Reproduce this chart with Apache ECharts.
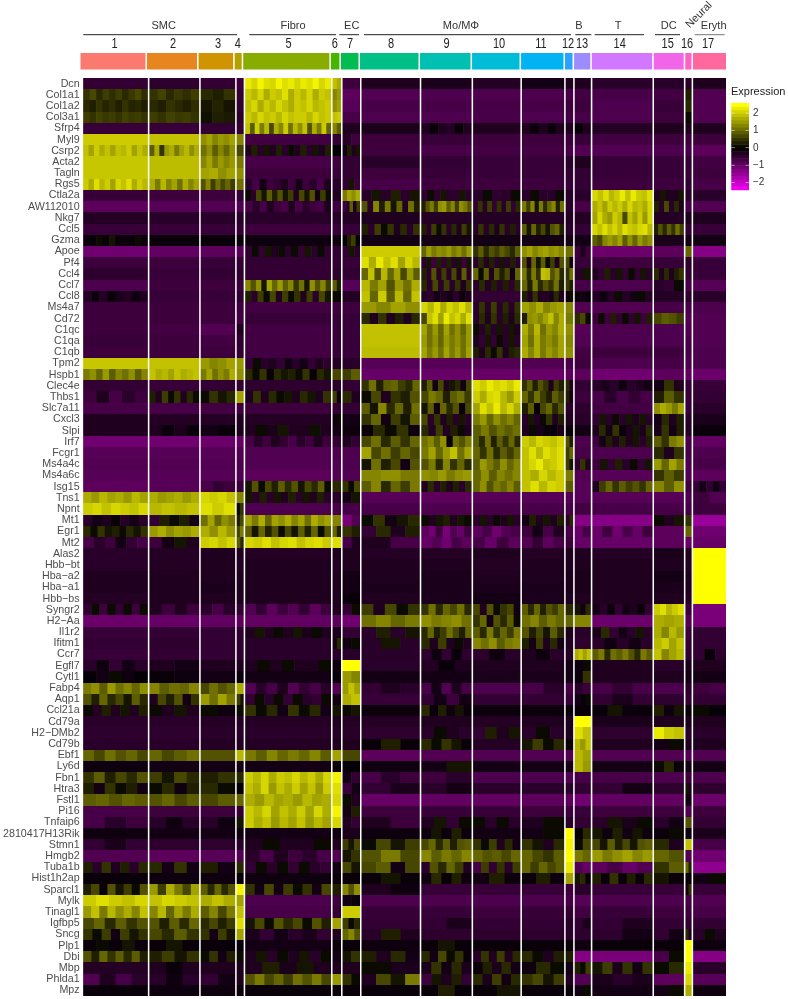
<!DOCTYPE html>
<html><head><meta charset="utf-8">
<script src="https://cdn.jsdelivr.net/npm/echarts@6/dist/echarts.min.js"></script>
<style>html,body{margin:0;padding:0;background:#fff}#c{width:788px;height:999px}</style>
</head><body><div id="c"></div>
<script>
// categories
const clusterLabels=['1','2','3','4','5','6','7','8','9','10','11','12','13','14','15','16','17'];
const clusterCells=[650,500,346,70,862,85,175,585,505,475,424,75,162,604,300,62,330];
const clusterColors=['#FB7A70','#E7851E','#D09400','#B2A100','#89AC00','#45B500','#00BC51','#00C087','#00C0B2','#00BCD6','#00B3F2','#29A3FF','#9C8DFF','#D277FF','#F166E8','#FF61C7','#FF689E'];
const groupLabels=['SMC','Fibro','EC','Mo/MΦ','B','T','DC','Eryth'];
const geneNames=['Dcn','Col1a1','Col1a2','Col3a1','Sfrp4','Myl9','Csrp2','Acta2','Tagln','Rgs5','Ctla2a','AW112010','Nkg7','Ccl5','Gzma','Apoe','Pf4','Ccl4','Ccl7','Ccl8','Ms4a7','Cd72','C1qc','C1qa','C1qb','Tpm2','Hspb1','Clec4e','Thbs1','Slc7a11','Cxcl3','Slpi','Irf7','Fcgr1','Ms4a4c','Ms4a6c','Isg15','Tns1','Npnt','Mt1','Egr1','Mt2','Alas2','Hbb−bt','Hba−a2','Hba−a1','Hbb−bs','Syngr2','H2−Aa','Il1r2','Ifitm1','Ccr7','Egfl7','Cytl1','Fabp4','Aqp1','Ccl21a','Cd79a','H2−DMb2','Cd79b','Ebf1','Ly6d','Fbn1','Htra3','Fstl1','Pi16','Tnfaip6','2810417H13Rik','Stmn1','Hmgb2','Tuba1b','Hist1h2ap','Sparcl1','Mylk','Tinagl1','Igfbp5','Sncg','Plp1','Dbi','Mbp','Phlda1','Mpz'];
const legendLevels=[-2.5,-2.3,-2.1,-1.9,-1.7,-1.5,-1.3,-1.1,-.9,-.7,-.5,-.3,-.1,.1,.3,.5,.7,.9,1.1,1.3,1.5,1.7,1.9,2.1,2.3,2.5];
const legendTicks=[-2,-1,0,1,2];

// expression read per cluster; a nested list is a run of stripes across that cluster
const Dcn=[-.5,-.45,-.5,-.6,[2.3,2.1,2.4,2.2,2.1,2.4,2.2,2.3,2.1,2.3,2.2,2.4,2.1,2.3],[1.9,1.7],-.6,-.3,-.25,-.35,-.2,-.3,-.3,-.4,-.4,-.4,-.3];
const Col1a1=[[.5,.7,.4,.6,.45,.6,.4,.55,.7,.45],[.5,.65,.4,.55,.45,.6],[.4,.3,.5],-.5,[2,1.8,2.1,1.7,2,1.9,2.2,1.7,2,1.8,2.1,1.7,2,1.9],[1.3,1.5],-.9,-.8,-.75,-.75,-.75,-.7,-.65,-.7,-.65,.3,-.8];
const Col1a2=[[.4,.3,.5,.35,.45,.3,.5,.35,.4,.3],[.4,.3,.5,.4,.3,.45],[.2,.35,.2],-.5,[1.9,2.1,1.7,2,1.8,2.1,1.9,1.7,2,1.9,2.1,1.8,1.9,2],[1.4,1.6],-.85,-.7,-.7,-.7,-.7,-.6,-.6,-.75,-.55,.4,-.8];
const Col3a1=[[.6,.5,.65,.55,.6,.5,.65,.55,.6,.5],[.6,.5,.65,.55,.6,.5],[.15,.3,.25],-.4,[2,1.8,2.1,1.9,2,1.8,2.1,1.9,2,2,1.8,2.1,1.9,2],[1.9,2],-.7,-.75,-.75,-.7,-.75,-.65,-.7,-.75,-.6,.1,-.8];
const Sfrp4=[-.55,-.55,-.5,-.5,[1.9,.9,2,1.2,1.8,.7,1.7,1.3,2,1.1,1.8,1.4,1.9,.8,1.7,1.2,2,1],[1.3,.9],-.3,-.25,[-.3,-.1,-.3,-.35,-.1,-.3],-.3,[-.3,-.1,-.3,-.1,-.3],-.3,[-.1,-.3],-.35,-.3,-.3,-.3];
const Myl9=[2,1.9,[1.4,1.6,1.3,1.5,1.4,1.6],1.3,-.65,-.5,[-.4,-.6],-.6,-.55,-.6,-.6,-.6,-.55,-.65,-.6,-.6,-.6];
const Csrp2=[[1.9,1.6,2,1.7,1.9,1.6,1.9,1.8,2,1.6,1.9,1.7],[.9,1.7,.5,1.5,1.7,1.2,1.6,1.8,1.4,1.7],[1.1,1.4,.9,1.3,1,1.4],.7,[-.3,.3,-.4,.2,-.3,.3,-.4,.1,-.3,.3,-.4,.2,-.3,.3],.0,[-.2,.3,-.3,.2],-.6,-.7,-.65,-.65,-.7,-.8,-.8,-.75,-.7,-.9];
const Acta2=[1.95,1.85,[1.3,1.6,1.2,1.5,1.3,1.5],1.2,-.7,-.6,-.5,-.4,-.5,-.55,-.55,-.4,-.3,-.55,-.55,-.5,-.65];
const Tagln=[1.95,1.85,[1.6,1.7,1.4,1.6],1.4,-.6,-.55,-.5,-.6,-.55,-.55,-.55,-.5,-.5,-.55,-.55,-.55,-.6];
const Rgs5=[[2,1.7,2.2,1.8,2,1.6,2.1,1.9,2.2,1.7,2,1.8],[1.7,1.2,1.8,1.3,1.6,1.1,1.7,1.3,1.6],[.8,1.3,.6,1.1,.7,1,.6],1.1,[-.4,-.7,-.2,-.6,-.5,-.3,-.6,-.2,-.6,-.4,-.7,-.3],-.4,[-.5,.2,-.6],-.7,-.6,-.6,-.6,-.55,-.5,-.6,-.6,-.5,-.7];
const Ctla2a=[-.55,-.6,-.6,-.5,[.1,-.4,.7,.2,.9,.3,.8,.2,.6,-.3,.7,.2,.8,-.2,.6,.1],-.3,[1.2,1.6,1.4,1.7],[-.4,.2,-.4,.3,-.4,.2],[-.45,.1,-.45,.2,-.4,-.45,.2,-.4],[-.4,.1,-.45,-.4,.1],[-.4,.1,-.4,-.4,.1],-.4,-.4,[2.1,1.9,2.2,1.8,2,2.3,1.9,2.3,2,1.9,2.2],[-.3,.2,-.3,-.3,.2],-.4,-.4];
const AW112010=[-.9,-.85,-.8,-.8,[-.7,-.4,-.7,-.3,-.6,-.7,-.3,-.7,-.4,-.6,-.7,-.3],-.6,[-.6,-.4,.9,-.3,.6],[.8,-.4,1.3,.3,1.2,.2,1,-.3,1.1,.3],[.3,.8,1.2,.6,1.4,1.5,.9,1.3,.6,1.4,1.2,.8],[-.5,.5,-.4,.6,-.5,.5,-.4,.6,-.5,.4],[1.2,.6,1.3,.2,1.2,.4,1,1.3,.3,1.1],-.4,-.7,[1.7,1.9,1.6,2,1.8,2,1.7,2.1,1.8,1.9,1.7,2.1],[.3,-.4,.7,-.4,.4,-.3],-.7,-.8];
const Nkg7=[-.35,-.4,-.4,-.4,-.4,-.4,-.35,-.3,-.35,-.35,-.35,-.35,-.35,[1.6,2.1,1.7,1.5,2,1.8,.7,1.9,1.6,2,1.5,2.1],-.35,-.3,-.3];
const Ccl5=[-.55,-.55,-.55,-.5,-.6,-.55,-.55,[.3,-.4,.6,.1,.5,-.3,.4,-.4,.5],[.3,-.4,.6,.1,.5,-.4,.4,-.3,.6,.2],[-.4,.5,-.4,.4,-.3,.5,-.4,.3,-.4],[.9,.2,1,.3,.7,.2,.8,1,.3],-.4,-.5,[2.1,1.9,2.2,1.9,2.1,1.8,2.2,2,1.9,2.1,2.2,1.8],[.3,.8,.4,.9,.5,1.1,.6],-.5,-.55];
const Gzma=[[-.12,-.08,.1,-.1,.2,-.1,-.12,-.1,.1,-.12],-.1,-.1,-.1,-.15,-.15,[-.05,.3,.6,-.05],-.2,-.2,-.2,-.2,-.2,-.2,[.9,.7,1.3,1.5,1.3,1.6,.9,1.4,1,1.5,1.2,1.4],-.25,-.2,-.2];
const Apoe=[-1.1,-.95,-.9,-.85,[-.5,.1,-.5,.2,-.3,.1,-.4,.1,-.5,.2,-.4,.1,-.5],-.5,[-.5,.2,-.4],2,[1,1.5,1.2,1.4,1.3,1.5,1.2,1.4,1.1,1.5],[.5,.9,.4,.8,.6,.9,.7,.4,.9],[1.4,1.6,1.3,1.5,1.6,1.4,1.5,1.3],1.1,[-.6,-.3,-.6],-1.05,-.9,1,-1.3];
const Pf4=[-.6,-.6,-.55,-.5,-.5,-.5,-.55,[2.2,1.7,2.3,1.9,2.2,1.6,2.1,1.8],[-.4,.2,-.6,.3,-.5,.3,-.4,.2,-.6,.2],[-.4,.4,-.35,.3,-.4,.2,-.4,.3,-.4],[.8,-.3,1,.2,.9,.1,.6,-.3,.8],[.7,-.2],-.55,-.6,-.55,-.45,-.55];
const Ccl4=[-.45,-.55,-.5,-.45,-.5,-.45,-.5,[1,1.9,.8,1.8,1,1.6,.7,1.5,.9],[.3,-.4,.8,-.4,.6,-.4,.7,-.3,.9,-.4],[1,.1,.9,-.3,.8,.3,.7,-.2,1],[1.2,.4,1.2,.5,1.9,1.8,.8,1.2,.4],[.5,1.1],[-.4,.2],[-.3,-.5,.3,-.4,.2,-.5,.1,-.5,.2,-.4],[.4,-.3,.4,-.3,.3,.5],-.5,-.55];
const Ccl7=[-.75,-.6,-.6,-.55,[1.3,.8,1.4,.2,1.6,1,1.5,.9,1.3,.5,1.1,.2,1.4,.8,1.3,.6],[.9,.3],-.85,[1.8,1.2,1.6,.8,1.5,1.1,1.7],[.4,-.4,.7,-.4,.6,-.4,.5,-.3,.5],[-.4,.4,-.35,.3,-.4,.3,-.45,.4],[1,.3,1.2,.4,.8,.5,1.1,.3],[.6,.3],-.7,-.75,[-.4,-.5,.1],-.7,-.85];
const Ccl8=[[-.35,-.15,-.35,-.1,-.25,-.35,-.15,-.3],-.55,-.55,-.45,[.3,-.4,.6,.1,.7,-.3,.6,.1,.5,-.3,.6,-.4,.7,.2],.1,-.35,[1.9,1,2,.9,1.8,1,1.9],[-.35,-.45,-.2,-.35,-.2,-.45,-.15,-.3],-.5,[.3,-.3,.5,-.3,-.35,-.25,.4,-.3],[-.15,.1],[-.1,-.2,-.1],[-.35,-.15,-.35,.1,-.35,-.2,.1,-.35],-.35,-.45,-.4];
const Ms4a7=[-.6,-.6,-.6,-.6,-.65,-.6,-.6,[1.5,1.3,1.6,1.4],[2.1,1.8,2.2,1.7,2.1,1.9,2.2,1.8],[-.4,.5,-.4,.6,-.4,.4,-.4,.5],[1.6,1.4,1.7,1.3,1.5,1.6],1.3,-.8,-.8,-.7,-.7,-.75];
const Cd72=[-.6,-.6,-.6,-.65,-.55,-.55,-.55,[.4,-.3,.5,-.3,.3,-.3,.4],[.7,1.9,2.2,1.6,2.3,1.9,2.1,1.7,2.2],[-.4,.4,-.3,.5,-.4,.3,-.3,.4],[.3,1.4,1.5,1.3,1.6,1.9,1.3,1.7],1.2,[.4,.7,.1],[-.6,.1,-.6,.3,-.5,.1,-.5,.2,-.6,.3],[.7,.9,.8,.6],-.8,-.8];
const C1qc=[-.6,-.65,-.8,-.3,-.65,-.55,-.55,1.9,[1.6,1.1,1.5,1,1.6,1.1,1.4,1,1.5],[.1,-.4,.3,-.4,.2,-.4,.2,-.3],[1.7,1.2,1.8,1.1,1.5,1.3,1.7],1.4,-.85,-.75,-.75,-.75,-.8];
const C1qa=[-.55,-.6,-.65,-.45,-.65,-.55,-.55,1.9,[1.5,1.1,1.4,1,1.5,1.2,1.4,1.1,1.5],[-.3,-.5,.2,-.5,.1,-.4,.2,-.4],[1.6,1.1,1.7,1.2,1.4,1.2,1.6],1.3,-.8,-.75,-.75,-.7,-.8];
const C1qb=[-.6,-.6,-.6,-.5,-.65,-.55,-.55,1.85,[1.6,1.2,1.5,1.1,1.6,1.2,1.5,1.1,1.6],[.3,-.3,.4,.1,.5,-.3,.3,.4],[1.7,1.3,1.7,1.2,1.5,1.3,1.6],1.4,-.65,-.6,-.6,-.7,-.75];
const Tpm2=[1.95,1.9,[1.5,1.3,1.4,1.6],1.5,[-.5,.1,-.4,-.3,-.5,-.2,-.4,-.2,-.5,-.3,-.45],-.35,-.4,-.85,-.85,-.8,-.8,-.7,-.6,-.75,-.7,-.75,-.75];
const Hspb1=[[1.2,1.4,1,1.5,.9,1.3,1.1,1.4,.9,1.3],[1.9,1.7,1.8,1.6,1.9,1.7,1.8,1.9],[1.2,1.6,1.1,1.4,1.2,1.7],1.4,[.4,.1,.5,-.1,.4,.2,.3,.1,.5,-.1,.4,.2],.7,[.6,.9],-1,-1,-1,-1,-.9,-.9,-1.1,-.9,-.95,-1.05];
const Clec4e=[-.5,-.55,-.5,-.5,-.45,-.4,-.5,[.5,1.1,.3,.9,1,.6,.4,1],[.3,.9,-.2,.7,-.3,.2,.4,-.2,.7],[2.2,2,2.3,2.1,2.2,2,2.3],[.5,.9,.3,.8,.5,-.3,.6,.3],[.4,-.3],-.5,[-.4,-.25,-.4,-.15,-.4,-.3,-.2],[-.2,.5,-.3],-.55,-.55];
const Thbs1=[[-.6,-.3,-.7,-.4,-.6],[.3,-.3,.6,.1,.5,-.3,.4,.1],[.1,.5,.2,.4],1.6,[-.3,.5,-.3,.4,.1,.2,-.3,.4,.2,-.3,.5],[.6,-.2],[.4,-.3],[.1,.7,-.3,.5,.3,.8],[.7,1.2,1,.3,.9,1.1,.6],[2,1.7,2.1,2.2,1.8,1.5,2],[1,.5,1.1,.6,.3,.9,.6],[.3,-.2],-.6,[-.7,-.4,-.7,-.5,-.7],[.3,.9,.5],-.55,-.5];
const Slc7a11=[-.7,-.7,-.65,-.6,-.6,-.5,-.5,[.9,.2,1.3,.4,1,.3,1.1],[.2,.9,-.2,1,.4,.8,-.1,.7],[1.6,2.2,1.9,2.3,1.8,2.1,1.7],[.3,.9,-.1,.7,1,.4,.8],-.4,-.45,-.65,[1.4,1.7,1.5,1.2,1.6],-.55,-.4];
const Cxcl3=[-.3,-.35,-.35,-.3,-.35,[-.15,.1],-.2,[.5,1,-.2,.6,.2,.9],[.7,-.4,.5,-.3,.3,-.4,.2,-.4],[1.2,1.5,1,1.4,1.1,1.3,1],[-.4,.2,-.35,.1,.5,-.3,.3],-.3,-.4,[-.5,.2,-.4,.1,-.4,.2,-.3,.2,-.4],[-.2,.4,-.3,.3],-.4,-.25];
const Slpi=[-.3,[-.3,-.12,-.25,-.1],[-.2,-.1],-.25,[-.3,.1,-.25,.2,-.3,-.3,.15,-.3],-.2,-.15,[-.1,.4,.1,.5,-.15],[.4,-.35,.6,-.35,.3,.1,-.3],[.9,1.2,.8,1.1,.9,1.1],[-.3,.1,-.25,-.1,-.08,-.25],-.1,-.2,[-.3,.4,-.2,.5,-.1,-.3,.2,-.25,.4],[-.25,.5,-.2,.3],-.35,-.1];
const Irf7=[-1.1,-1.1,-1.05,-1,[-.7,-.4,-.6,-.3,-.5,-.7,-.4,-.6,-.3,-.6],-.5,[-.3,-.5],[.7,1.1,.4,.9,.5,1],[1.1,1.3,.9,1.4,-.1,1.1,.8,1.2],[.9,.4,1.1,.3,.9,.5,1,.4],[2,1.8,2.1,2,1.9,2.1],[.8,.3],-.75,[-.6,-.2,.3,-.3,.3,-.3,.2,-.4,.3],[.9,.5,1.2,1.4],-.7,-.95];
const Fcgr1=[-.85,-.85,-.85,-.8,-.8,-.75,-.75,[1.6,.7,1.1,.6,1,.7],[1.2,1.6,1,1.5,1.9,1.1,1.6],[1,.5,1.1,.4,.9,.6,1],[1.9,2.2,1.8,2.2,2,2.2],[.6,1],-.7,-.75,[.4,-.3,.5],-.7,-.75];
const Ms4a4c=[-.8,-.8,-.8,-.75,-.8,-.8,-.75,[.2,1.1,.3,.7,-.2,.8],[.8,1.2,.4,1.3,.5,1,.4],[.9,1.5,1.2,.9,1.4,1,1.3],[1.9,2.1,2.3,1.9,2,2.2],[.6,.2],[-.5,.5,-.3],[-.6,.2,-.5,.3,-.4,.1,-.5,.2],[1.5,1,1.6,1.2],-.75,-.7];
const Ms4a6c=[-.85,-.85,-.85,-.8,-.9,-.8,-.8,[1.3,1.4,1.2],[1.4,1.3,1.5,1.2,1.4,1.5],[1,1.4,.9,1.3,1.1,1.3],[1.9,1.7,2.1,1.8,2],1.2,-.8,-.85,[.5,.9,.6],-.8,-.9];
const Isg15=[-.9,-.85,[-.7,-.5,-.6],-.55,[.2,.8,.1,.7,.3,.9,.4,.8,.2,.7,.4,.9,.1],.4,[.5,.1,.7],[.9,1.3,.4,1,.6,1.2],[-.3,.4,-.4,.3,-.3,.3,-.4,.4],[1,1.4,.8,1.2,1,1.3,.9],[1.9,2.2,1.8,2.1,2],.9,-.85,[-.3,.6,1,.5,.9,.6,.8,.5,1],[1.3,.9,1.4],-.6,[-.5,-.2,-.5,-.2,-.5]];
const Tns1=[[1.7,1.5,1.8,1.6,1.7,1.5,1.8,1.6],[1.7,1.5,1.6,1.7,1.5,1.7],[2.1,2,2.1,1.9],1.3,[.2,-.4,.3,-.4,.2,-.3,.3,-.4,.2,-.3,.3,-.4],-.4,[-.2,.2],-.85,-.9,-.85,-.85,-.8,-.85,-.85,-.85,-.75,[-.6,-.8]];
const Npnt=[[2,2.1,1.9,2.1,2,1.9,2.1],[1.8,1.9,1.8,1.9],[2.2,2,2.2],[.1,.5],-.75,-.7,-.7,-.7,-.75,-.7,-.7,-.7,-.65,-.7,-.7,-.7,-.6];
const Mt1=[[-.4,-.2,-.3,-.1,-.35,-.2,-.4],[-.5,.3,.1,.3,-.2],[1.1,1.6,1,1.4,1.2],[.3,.7],[1.6,1.2,1.7,1,1.6,1.4,1.7,1.3,1.6,1.1,1.7,1.4,1.6],1.3,[-1.2,-.8],[.1,.5,-.2,.2,.4],[.1,-.3,.2,.3,-.3,.2,.1],[-.4,.2,-.4,.1,-.3,.2,-.4],[-.2,.3,-.3,.2,-.3,.3],[-.4,.4],-1.3,-1.3,[.1,-.3,.2],.5,-1.5];
const Egr1=[[.4,.1,.5,.2,.3,.1,.4,.2,.5],[1.5,1.7,1.4,1.6,1.5,1.7],[1.7,1.4,1.8,1.5],[.7,1.2],[.9,.2,1,.3,.8,.1,.7,.2,.9,.3,1,.1,.8],[1,.3],[.5,.3],[-.5,.4,-.3,.3],[-.9,-1.1,-.6,-1.2,-.8,-1,-.6],[-.9,-.7,-1.1,-.8,-.7],[-.6,-.2,-.7,-.3],-.7,[-1,-.7],[-1,-.6,-1.1,-.7,-1,-.6],-.9,1,-1.1];
const Mt2=[[-.7,-.4,-.6,-.2,-.5,-.7],[-.6,-.2,.2,-.3],[2,2.1,1.9,2.1],[.9,.4],[2.1,2,2.2,1.9,2.1,2.2,1.9,2.1,2.2,2],2.2,[-.7,-.3],[-.3,-.7],[-1,-.8,-1.1,-.7,-.9],[-.7,-1,-.6,-.9],[-.8,-.5,-.9,-.7],-.6,-1,-1,-.9,-1,-1];
const Alas2=[-.4,-.35,-.3,-.3,-.35,-.3,-.3,-.35,-.35,-.3,-.35,-.3,-.3,-.35,-.25,-.3,2.5];
const Hbb_bt=[-.4,-.35,-.3,-.35,-.3,-.35,-.3,-.3,-.3,-.35,-.3,-.3,-.3,-.3,-.3,-.35,2.5];
const Hba_a2=[-.3,-.3,-.3,-.3,-.3,-.3,-.2,-.3,-.25,-.3,-.3,-.25,-.25,-.3,-.2,-.3,2.5];
const Hba_a1=[-.3,-.3,-.25,-.3,-.3,-.3,-.2,-.25,-.25,-.25,-.25,-.25,-.25,-.3,-.25,-.3,2.5];
const Hbb_bs=[-.35,-.3,-.3,-.3,-.3,-.3,-.1,-.3,-.25,-.2,-.25,-.3,-.3,-.3,-.3,-.35,2.5];
const Syngr2=[[-.5,.1,-.6,.1,-.5,.1,-.6,.1],[-.3,-.6,-.3,-.6],[-.4,-.7,-.4],-.5,[-.8,-.5,-.9,-.6,-.8,-.5,-.9,-.6],-.3,[-.5,.1],[.6,-.3,.7,.1,.5],[.5,1.1,.4,1,.7,1.1,.4],[.7,-.3,.8,.1,.5,.7,-.2],[.9,.4,1,.3,.8,.6,1],.4,[.2,-.2,.4],[-.2,-.4,-.1,-.5,-.2,-.3,-.1,-.5],[2,2.2,1.8,2,2.2],-.55,-1.2];
const H2_Aa=[-1.05,-1,-.95,-.9,-.95,-.9,-1.1,[1.1,1.3,1,1.2],[1.4,1.2,1.3,1.4,1.1],[.5,1,-.2,.8,.4,.9,.1],[1.1,1.3,.9,1.2,1],1,1.3,-1.05,[1.7,1.6,1.7],-.8,-1.2];
const Il1r2=[-.55,-.5,-.5,-.45,[-.3,.2,-.3,.1,-.3,.2,-.25,.1,-.3],-.25,-.5,[-.4,.3,-.4,.2],[.4,1,.3,.6,1.1,.7,.3,1],[.9,.4,1.2,.5,1,.6,1.2],[.8,.3,.7,.2,.9,.4],-.25,-.4,[-.25,.4,-.5,-.2,-.4,.2,-.4],[1.7,1.3,1.8,1.5],-.55,-.5];
const Ifitm1=[-.5,-.45,-.5,-.45,-.4,[-.2,.4],[-.15,.1],[-.4,.2,-.4],[.4,-.3,.6,-.3,.1,-.3],[1.3,1.1,1.4,.9,1.2,1.3],[.3,-.2,.6,-.3,.4,-.2],-.3,-.45,[-.4,-.15,-.4,-.2,-.4],[1.8,2,1.6,1.9],-.5,-.5];
const Ccr7=[-.55,-.5,-.5,-.45,-.4,-.4,-.4,-.4,[-.45,-.15,-.5,-.1,-.45],[-.45,-.15,-.4],[-.3,-.15,-.4],-.35,[1.7,1.9,1.6,1.9],[.9,1.2,.4,1.1,.9,1.2,.8,.4,1.2,.9],[1.9,1.3,1.6,1.8],-.45,[-.5,-.1,-.45]];
const Egfl7=[[-.4,-.15,-.5,-.2,-.4],[-.3,-.2],-.3,-.3,[-.3,.1,-.3,.1,-.3,-.3,.1],-.15,2.5,-.4,[-.35,-.1,-.3],-.3,-.3,-.2,[-.15,.1],-.3,-.4,-.25,-.3];
const Cytl1=[[-.05,-.2,.1,-.15,-.05],[-.1,-.15],-.2,-.1,-.2,-.08,[1.5,1.3],-.2,-.2,-.25,-.25,-.2,[-.12,.5],-.3,-.3,-.2,-.2];
const Fabp4=[[1.2,1.4,.9,1.5,1.1,1.3,1,1.4],[1.3,.9,1.1,1,1.3],[.7,1.1,.8,1],1.7,[-.8,-.4,-.7,-.3,-.8,-.5,-.7,-.4],-.8,[1.5,1.9,1.6],[-.5,-.3,-.4],[-.7,-.2,-.8,-.3,-.7],-.75,[-.7,-.4],-.7,[-.4,-.6],[-.7,-.5,-.7],-.75,-.4,[-.6,-.7]];
const Aqp1=[[.8,.3,1,.4,.7,.2,.9,.4],[-.3,.7,.3,.8,-.2,.5],[1.5,1.1,1.6,1.2],[.6,.2],[-.5,.1,-.4,.1,-.5,.1,-.4,-.5,.1],-.2,[1.7,1.9],-.55,[-.5,-.2,-.6,-.2],-.5,-.5,-.55,[-.2,-.1,.1],[-.5,-.25,-.5],-.45,-.5,-.5];
const Ccl21a=[[.1,-.35,.3,-.3,.2,-.3,.3],[.1,-.3,.2,-.3],[.1,-.15],.1,[.5,.1,.4,-.2,.5,.1,.4,-.2],.2,[.1,.2],-.12,[.4,-.1,.3,-.15,.2,-.1],-.12,-.12,-.1,-.1,[-.1,.2,-.12,-.1],[.3,-.15,.2],-.1,[.1,-.08]];
const Cd79a=[-.4,-.4,-.35,-.35,-.35,-.3,-.35,-.35,-.3,-.35,-.3,-.3,2.5,-.25,-.3,-.25,-.3];
const H2_DMb2=[-.45,-.45,-.4,-.4,-.4,-.35,-.4,-.45,[-.4,.1,-.3,-.4],[-.5,.3,-.3,.2],[-.4,.1,-.4],-.3,[2.2,1.9],-.45,[2.3,2,1.9],-.4,-.4];
const Cd79b=[-.4,-.4,-.35,-.35,-.35,-.3,-.3,[-.1,.3,-.1],[.4,.1,.5,.2,-.1],-.35,[.2,.6,.1,.4],-.1,[1.8,1.5,1.9],-.3,[-.2,.1],-.3,-.3];
const Ebf1=[[1,.7,1.1,.8,1,.7],[1,.7,.9,1.1],.8,1.8,[1.2,.9,1.3,1,1.2,1,1.3,.9],1.6,.7,-.9,-.8,-.8,-.8,-.8,[1.8,1.6],-.8,-.8,-.8,-.8];
const Ly6d=[-.15,-.2,-.2,-.2,-.2,-.1,-.05,-.15,[-.2,.2],-.2,-.2,-.2,[1.8,1.5],-.2,[.1,.4,-.1],-.2,-.2];
const Fbn1=[[.5,.9,.3,.7,.4,.8],[.6,.2,.7,.4],[.3,.5],.4,[2,1.8,2.1,1.7,2,1.9,2.1,1.8,2,1.7,2.1],2.4,[-.2,-.5],[-.7,-.4,-.6],[-.6,-.4],-.75,-.75,-.8,-.7,-.7,-.75,-.6,-.75];
const Htra3=[[.3,-.2,.5,.1,.3,-.2],[.1,.4,-.15,.3],[.4,.1],-.05,[1.9,1.7,2.1,1.5,1.9,1.7,2,1.6,1.9,1.5,2],2.2,[-.6,-.2],[-.5,-.25],[-.4,-.2],-.4,-.4,-.4,-.5,[-.5,-.2],-.45,[.2,-.3],-.45];
const Fstl1=[[.9,1,.8,1,.9],[.8,1,.7,.9],[.7,.9],1,[1.7,1.5,1.8,1.6,1.7,1.5,1.8,1.6,1.7],2.1,[.1,-.3],-1,-.95,-.95,-.9,-.9,-1.1,-.95,-.95,-.2,-1.05];
const Pi16=[-.7,-.6,-.6,-.5,[2,1.8,2.1,1.6,1.9,1.7,2,1.6,2.1,1.7],2.4,[-.2,.3],-.6,-.55,-.55,-.6,-.6,-.55,-.6,-.6,-.8,-.6];
const Tnfaip6=[[-.7,-.4,-.6],[-.4,-.15,-.4],[-.4,-.15],.2,[2,1.7,1.9,1.5,1.8,1.6,1.9,1.5,1.8,1.6],2.1,[-.3,-.5],[-.3,-.6],[-.3,.2,-.5,.1],[.1,-.4,.1,-.4],[-.3,.1],-.4,-.5,[-.4,.2,-.25,.1],[-.4,-.2],.8,-.5];
const Rik2810417H13=[-.15,-.2,-.2,-.15,-.2,-.15,-.25,-.15,[-.12,.2,-.12,.3,-.12],-.2,[-.2,.1],2.5,[-.05,.4],[.2,-.15,.3,-.2,.2,-.15],[-.12,.1],-.15,-.25];
const Stmn1=[[-.5,-.25,-.5],-.45,-.45,-.4,[-.3,.1,-.3,-.3,.1],-.3,[.6,.2,.7],[.1,.7,.2,.6],[.7,1,.4,.9,.3,.8,.9],[.5,.1,.6,-.3,.4,-.2],[.5,.2,-.3,.4],2.4,[.1,.7],[.7,.2,.9,.3,.7,.2,.8,.9],[.4,-.3],1.9,-.7];
const Hmgb2=[-.8,-.9,-.85,-.8,[-.4,-.7,-.3,-.6,-.4,-.7],-.8,[.2,.5],[.8,1.2,.7],[1.3,.9,1.2,1,1.3],[1,.8,.9,.7,1],[1,.7,.5,.9],2.5,[1.2,1],[1.5,1.2,1.4,1.6,1.3,1.5],[1,.8],-.8,-1.1];
const Tuba1b=[[.3,-.4,.5,-.3,.3,-.4,.4],[.4,-.2,.5,-.2],[.3,-.2],.4,[-.5,.1,-.4,.1,-.5,.1,-.4,-.5],-.2,[.7,.2],[.7,.9,-.2,.7],[-.4,.8,.4,1,.6,-.3],[-.7,.6,-.5,.5,-.4,.6],[1,.6,1,.7,.9],2.3,[-.8,-1],[-.9,-.7,-1,-.8],[.5,.9],[1,.3],-1.4];
const Hist1h2ap=[-.1,-.15,-.15,-.1,-.15,-.1,-.1,[-.1,.2,-.1],[-.15,.4,-.08,.3,-.15],[-.2,.3,-.12],[-.1,.3,-.12],1.6,[.2,.4,-.1],[.3,-.12,.5,-.1,.3,-.12,.4],[.2,-.1],-.1,[-.2,.1]];
const Sparcl1=[[.3,.7,-.1,.8,.2,.6,.1,.8],[1.5,.6,1.7,1.2,.7,1.6],[.9,.4,1,.4,.8],2.4,[.5,-.2,.7,-.2,.6,.1,.5,-.2,.7],.3,[1.3,.8,1.4],[-.3,-.15],-.55,-.55,-.55,-.6,-.4,-.55,-.55,[-.2,.5],-.55];
const Mylk=[[2,2.2,2,1.9,2.1],[1.9,2.1,2,1.9],[1.7,1.9,1.7],1.6,-.75,-.6,[-.2,-.1],-.75,-.75,-.75,-.75,-.7,-.85,-.75,-.75,-.7,-.8];
const Tinagl1=[[1.5,1.9,1.2,1.8,1.4,1.7,1.3,1.9],[1.3,1.8,1,1.6,1.2,1.7],[.9,1.3,.7,1.2],1.9,-.7,-.5,2,-.55,-.55,-.6,-.55,-.5,-.65,-.55,-.6,-.6,-.7];
const Igfbp5=[[.7,1,.4,.9,.5,.8],[.8,.3,.9,.4,1],[.4,.7,.3,.6],2.2,[.2,.7,.1,.8,.4,.7,.1,.8,.3],1.6,[.6,.1,.4],-.5,[-.5,-.25],-.5,-.5,-.4,[-.5,-.25],[-.5,-.3],-.5,-.5,-.5];
const Sncg=[[.5,.1,.6,-.2,.6,.2,.5],[.7,.4,.9,.5],[.5,-.2,.6,.2],1.6,[-.25,-.5,-.2,-.4,-.25,-.5],-.3,[1,1.3,.8],[-.4,.3,-.3],-.45,-.45,-.45,-.4,-.45,[-.45,-.2],[-.5,-.2],[.4,-.3],[-.4,.1,-.3]];
const Plp1=[[-.1,.1,-.1,.2,-.12],[-.1,.2,-.1],-.1,-.08,-.2,-.1,-.1,-.15,[-.1,.2,-.1],-.1,-.1,-.1,-.15,-.1,-.1,2.5,-.15];
const Dbi=[[.8,.3,1,.5,.9,.4,.9,.3],[.3,.6,.2,.5],[.1,.5,-.2,.3],.1,[-.3,.2,-.4,.1,-.3,.2,-.4,.1],-.2,[.2,.5],[.3,-.3,.4,-.2],[.4,-.2,.7,.1,.5,-.1],[-.4,.5,-.3,.6,-.3,.4],[.4,.1,-.3,.3],.3,-1.3,-1.2,[-.7,.1],2.5,-1.3];
const Mbp=[-.35,[-.3,-.1,-.3],-.3,-.25,[-.3,.3,-.25,.2,-.3],-.3,-.3,[.1,-.25],[-.25,.5,-.2,.4,-.25],[-.1,.3,-.25,.4,-.2],[-.15,.4,.1],-.2,[.3,.1,.6],[.2,.6,-.25,.5,-.2,.5],[.1,.4],2.3,-.4];
const Phlda1=[[-.8,-.3,-.7,-.4],[-.4,-.15,-.4],[-.5,-.2],-.3,[.8,1.2,.7,1,.6,1.1,.8,1.2,.7],1.5,[.5,.1],[-.3,.7,.2,1.2],[-.6,.2,-.3,.3,-.5],[.4,-.25,.6,-.2,.4],[.5,.7,.2,.6],-.3,-.8,[-.25,-.4,-.25],-.9,2.1,-.85];
const Mpz=[-.1,-.15,-.15,-.1,-.1,-.1,-.1,-.1,[-.1,.3,-.08],[-.1,.2],-.1,-.1,[-.2,.1],-.2,[-.2,.1],1.7,-.15];
const geneRows=[Dcn,Col1a1,Col1a2,Col3a1,Sfrp4,Myl9,Csrp2,Acta2,Tagln,Rgs5,Ctla2a,AW112010,Nkg7,Ccl5,Gzma,Apoe,Pf4,Ccl4,Ccl7,Ccl8,Ms4a7,Cd72,C1qc,C1qa,C1qb,Tpm2,Hspb1,Clec4e,Thbs1,Slc7a11,Cxcl3,Slpi,Irf7,Fcgr1,Ms4a4c,Ms4a6c,Isg15,Tns1,Npnt,Mt1,Egr1,Mt2,Alas2,Hbb_bt,Hba_a2,Hba_a1,Hbb_bs,Syngr2,H2_Aa,Il1r2,Ifitm1,Ccr7,Egfl7,Cytl1,Fabp4,Aqp1,Ccl21a,Cd79a,H2_DMb2,Cd79b,Ebf1,Ly6d,Fbn1,Htra3,Fstl1,Pi16,Tnfaip6,Rik2810417H13,Stmn1,Hmgb2,Tuba1b,Hist1h2ap,Sparcl1,Mylk,Tinagl1,Igfbp5,Sncg,Plp1,Dbi,Mbp,Phlda1,Mpz];

// layout (kept apart from the values)
const FONT='"Liberation Sans",Arial,sans-serif';
const gapCells=15.5;
const groupLabelX=[163.7,293,351.7,461,579,618,668.7,713.7];
const groupLineX=[[83.3,237],[249.3,336],[339.3,359],[364,571],[575.3,591.3],[594.7,644],[655,680],[694.7,724.7]];
const clusterLabelX=[114.5,173,218,237.7,288.5,334.7,350,391,446.5,499,541,568,582,619.7,667.7,687,708];

let cursor=0;
const spans=clusterCells.map(n=>{const s=[cursor,cursor+n];cursor+=n+gapCells;return s;});
const totalCells=cursor-gapCells;

const heatData=[];
geneRows.forEach((row,g)=>row.forEach((cell,c)=>{
  const list=Array.isArray(cell)?cell:[cell];
  const w=(spans[c][1]-spans[c][0])/list.length;
  list.forEach((v,i)=>heatData.push([spans[c][0]+i*w,spans[c][0]+(i+1)*w,g,v,i<list.length-1?1:0]));
}));
const graphicEls=[];
groupLabels.forEach((t,i)=>{
  graphicEls.push({type:'text',x:groupLabelX[i],y:25.7,style:{text:t,fill:'#333',font:'11px '+FONT,textAlign:'center',textVerticalAlign:'middle'}});
  graphicEls.push({type:'line',shape:{x1:groupLineX[i][0],y1:34.7,x2:groupLineX[i][1],y2:34.7},style:{stroke:t==='Eryth'?'#777':'#222',lineWidth:1}});
});
graphicEls.push({type:'text',x:699,y:15,rotation:Math.PI/4,style:{text:'Neural',fill:'#333',font:'11px '+FONT,textAlign:'center',textVerticalAlign:'middle'}});
clusterLabels.forEach((t,i)=>graphicEls.push({type:'text',x:clusterLabelX[i],y:43.7,scaleY:1.3,style:{text:t,fill:'#222',font:'11px '+FONT,textAlign:'center',textVerticalAlign:'middle'}}));
graphicEls.push({type:'text',x:731,y:91.5,style:{text:'Expression',fill:'#222',font:'11px '+FONT,textAlign:'left',textVerticalAlign:'middle'}});

const option={
  animation:false,backgroundColor:'#fff',
  grid:[
    {left:80.5,top:78,width:645.5,height:918},
    {left:80.5,top:53,width:645.5,height:16.5},
    {left:731.3,top:102.7,width:17.7,height:87.6}
  ],
  xAxis:[
    {type:'value',gridIndex:0,min:0,max:totalCells,show:false},
    {type:'value',gridIndex:1,min:0,max:totalCells,show:false},
    {type:'value',gridIndex:2,min:0,max:1,show:false}
  ],
  yAxis:[
    {type:'category',gridIndex:0,data:geneNames,inverse:true,axisLine:{show:false},axisTick:{show:false},splitLine:{show:false},
     axisLabel:{interval:0,fontSize:10.7,fontFamily:FONT,color:'#4d4d4d',margin:3.5}},
    {type:'value',gridIndex:1,min:0,max:1,show:false},
    {type:'value',gridIndex:2,min:-2.45,max:2.6,show:false}
  ],
  visualMap:{show:false,type:'continuous',seriesIndex:[0,2],dimension:3,min:-2.5,max:2.5,inRange:{color:['#ff00ff','#000000','#ffff00']}},
  graphic:{elements:graphicEls},
  series:[
    {type:'custom',name:'heat',xAxisIndex:0,yAxisIndex:0,data:heatData,encode:{x:[0,1],y:2},silent:true,
     renderItem:(p,api)=>{
       const a=api.coord([api.value(0),api.value(2)]),b=api.coord([api.value(1),api.value(2)]),h=api.size([0,1])[1];
       const top=Math.round(a[1]-h/2),bottom=Math.round(a[1]+h/2);
       return {type:'rect',shape:{x:a[0],y:top,width:b[0]-a[0]+(api.value(4)?.6:0),height:bottom-top},style:{fill:api.visual('color')}};
     }},
    {type:'custom',name:'clusters',xAxisIndex:1,yAxisIndex:1,data:spans.map((s,i)=>[s[0],s[1],i]),encode:{x:[0,1]},silent:true,
     renderItem:(p,api)=>{
       const a=api.coord([api.value(0),1]),b=api.coord([api.value(1),0]);
       return {type:'rect',shape:{x:a[0],y:a[1],width:b[0]-a[0],height:b[1]-a[1]},style:{fill:clusterColors[api.value(2)]}};
     }},
    {type:'custom',name:'legendBar',xAxisIndex:2,yAxisIndex:2,clip:true,data:legendLevels.map(v=>[v-.1,v+.1,v,v]),encode:{y:[0,1]},silent:true,
     renderItem:(p,api)=>{
       const a=api.coord([0,api.value(1)]),b=api.coord([1,api.value(0)]);
       return {type:'rect',shape:{x:a[0],y:a[1],width:b[0]-a[0],height:b[1]-a[1]+.5},style:{fill:api.visual('color')}};
     }},
    {type:'custom',name:'legendTicks',xAxisIndex:2,yAxisIndex:2,clip:false,data:legendTicks.map(v=>[v]),encode:{y:0},silent:true,
     renderItem:(p,api)=>{
       const v=api.value(0),a=api.coord([0,v]),b=api.coord([1,v]);
       return {type:'group',children:[
         {type:'rect',shape:{x:a[0],y:a[1]-.25,width:3.5,height:.5},style:{fill:'#fff'}},
         {type:'rect',shape:{x:b[0]-3.5,y:b[1]-.25,width:3.5,height:.5},style:{fill:'#fff'}},
         {type:'text',x:b[0]+4,y:b[1],style:{text:(v<0?'−':'')+Math.abs(v),fill:'#333',font:'10px '+FONT,textAlign:'left',textVerticalAlign:'middle'}}
       ]};
     }}
  ]
};
echarts.init(document.getElementById('c'),null,{renderer:'canvas'}).setOption(option);
</script></body></html>
